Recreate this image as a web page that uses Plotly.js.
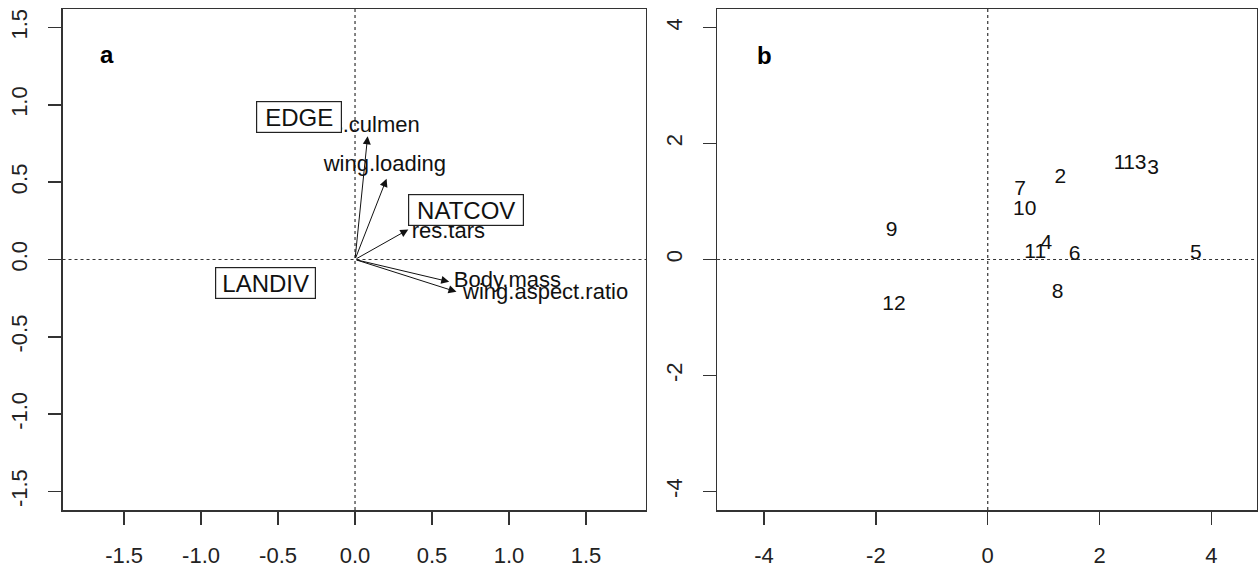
<!DOCTYPE html>
<html>
<head>
<meta charset="utf-8">
<script src="https://cdn.plot.ly/plotly-3.0.1.min.js"></script>
<style>html,body{margin:0;padding:0;background:#fff;}#chart{width:1258px;height:567px;}</style>
</head>
<body>
<div id="chart"></div>
<script>
// ---- Panel a: variable arrows ----
const varNames = ['res.culmen', 'wing.loading', 'res.tars', 'Body.mass', 'wing.aspect.ratio'];
const arrowX = [0.082, 0.205, 0.346, 0.612, 0.659];
const arrowY = [0.797, 0.522, 0.194, -0.144, -0.209];
const varLabelX = [0.071, 0.194, 0.606, 0.99, 1.238];
const varLabelY = [0.86, 0.608, 0.175, -0.142, -0.22];
// ---- Panel a: factor labels (boxed) ----
const factorNames = ['EDGE', 'NATCOV', 'LANDIV'];
const factorX = [-0.363, 0.72, -0.583];
const factorY = [0.924, 0.323, -0.155];
// ---- Panel b: site scores ----
const siteLabels = ['1', '2', '3', '4', '5', '6', '7', '8', '9', '10', '11', '12', '13'];
const siteX = [2.36, 1.30, 2.957, 1.05, 3.72, 1.555, 0.58, 1.248, -1.72, 0.66, 0.85, -1.676, 2.63];
const siteY = [1.643, 1.41, 1.569, 0.276, 0.098, 0.074, 1.207, -0.575, 0.488, 0.853, 0.115, -0.776, 1.643];
// ---- Axis ticks ----
const ticksA = [-1.5, -1.0, -0.5, 0.0, 0.5, 1.0, 1.5];
const tickTextA = ['-1.5', '-1.0', '-0.5', '0.0', '0.5', '1.0', '1.5'];
const ticksB = [-4, -2, 0, 2, 4];
const tickTextB = ['-4', '-2', '0', '2', '4'];
const panelLetters = ['a', 'b'];

const FONT = 'Liberation Sans, Arial, sans-serif';
const INK = '#111111';
const LINE = '#333333';

const traces = [
  {
    type: 'scatter', mode: 'text', x: varLabelX, y: varLabelY, text: varNames,
    textposition: 'middle center', textfont: {family: FONT, size: 22, color: INK},
    xaxis: 'x', yaxis: 'y', hoverinfo: 'skip', showlegend: false
  },
  {
    type: 'scatter', mode: 'text', x: siteX, y: siteY, text: siteLabels,
    textposition: 'middle center', textfont: {family: FONT, size: 21, color: INK},
    xaxis: 'x2', yaxis: 'y2', hoverinfo: 'skip', showlegend: false
  }
];

const annotations = [];
// arrows from origin
for (let i = 0; i < varNames.length; i++) {
  annotations.push({
    x: arrowX[i], y: arrowY[i], xref: 'x', yref: 'y',
    ax: 0, ay: 0, axref: 'x', ayref: 'y',
    showarrow: true, arrowhead: 2, arrowsize: 1.6, arrowwidth: 1, arrowcolor: INK,
    standoff: 0, startstandoff: 0, text: ''
  });
}
// boxed factor labels (drawn after so they cover text below)
const boxW = [84, 114, 99];
for (let i = 0; i < factorNames.length; i++) {
  annotations.push({
    x: factorX[i], y: factorY[i], xref: 'x', yref: 'y', showarrow: false,
    text: factorNames[i], font: {family: FONT, size: 24, color: INK},
    bgcolor: '#ffffff', bordercolor: '#222222', borderwidth: 1.2, borderpad: 0,
    width: boxW[i], height: 30, align: 'center', valign: 'middle'
  });
}
// panel letters
annotations.push({
  x: 0.0755, y: 0.909, xref: 'x domain', yref: 'y domain', showarrow: false,
  xanchor: 'center', yanchor: 'middle',
  text: '<b>' + panelLetters[0] + '</b>', font: {family: FONT, size: 24, color: '#000'}
});
annotations.push({
  x: 0.087, y: 0.907, xref: 'x2 domain', yref: 'y2 domain', showarrow: false,
  xanchor: 'center', yanchor: 'middle',
  text: '<b>' + panelLetters[1] + '</b>', font: {family: FONT, size: 24, color: '#000'}
});

const dot = {color: LINE, width: 1.2, dash: 'dot'};
const shapes = [
  {type: 'line', xref: 'x', yref: 'y domain', x0: 0, x1: 0, y0: 0, y1: 1, line: dot, layer: 'below'},
  {type: 'line', xref: 'x domain', yref: 'y', x0: 0, x1: 1, y0: 0, y1: 0, line: dot, layer: 'below'},
  {type: 'line', xref: 'x2', yref: 'y2 domain', x0: 0, x1: 0, y0: 0, y1: 1, line: dot, layer: 'below'},
  {type: 'line', xref: 'x2 domain', yref: 'y2', x0: 0, x1: 1, y0: 0, y1: 0, line: dot, layer: 'below'}
];

function axis(extra) {
  return Object.assign({
    showgrid: false, zeroline: false, showline: true, mirror: true,
    linecolor: LINE, linewidth: 1.5, ticks: 'outside', ticklen: 13, tickwidth: 1.5,
    tickcolor: LINE, tickfont: {family: FONT, size: 22, color: '#222'},
    ticklabelstandoff: 12, fixedrange: true, tickmode: 'array'
  }, extra);
}

const layout = {
  width: 1258, height: 567,
  margin: {l: 0, r: 0, t: 9, b: 57},
  paper_bgcolor: '#ffffff', plot_bgcolor: '#ffffff',
  showlegend: false,
  xaxis: axis({domain: [0.0497, 0.5135], range: [-1.9, 1.89], tickvals: ticksA, ticktext: tickTextA, anchor: 'y'}),
  yaxis: axis({domain: [0, 1], range: [-1.62, 1.62], tickvals: ticksA, ticktext: tickTextA, tickangle: -90, anchor: 'x'}),
  xaxis2: axis({domain: [0.5700, 0.9990], range: [-4.84, 4.81], tickvals: ticksB, ticktext: tickTextB, anchor: 'y2'}),
  yaxis2: axis({domain: [0, 1], range: [-4.32, 4.32], tickvals: ticksB, ticktext: tickTextB, tickangle: -90, anchor: 'x2'}),
  annotations: annotations,
  shapes: shapes
};

Plotly.newPlot('chart', traces, layout, {displayModeBar: false, staticPlot: true});
</script>
</body>
</html>
